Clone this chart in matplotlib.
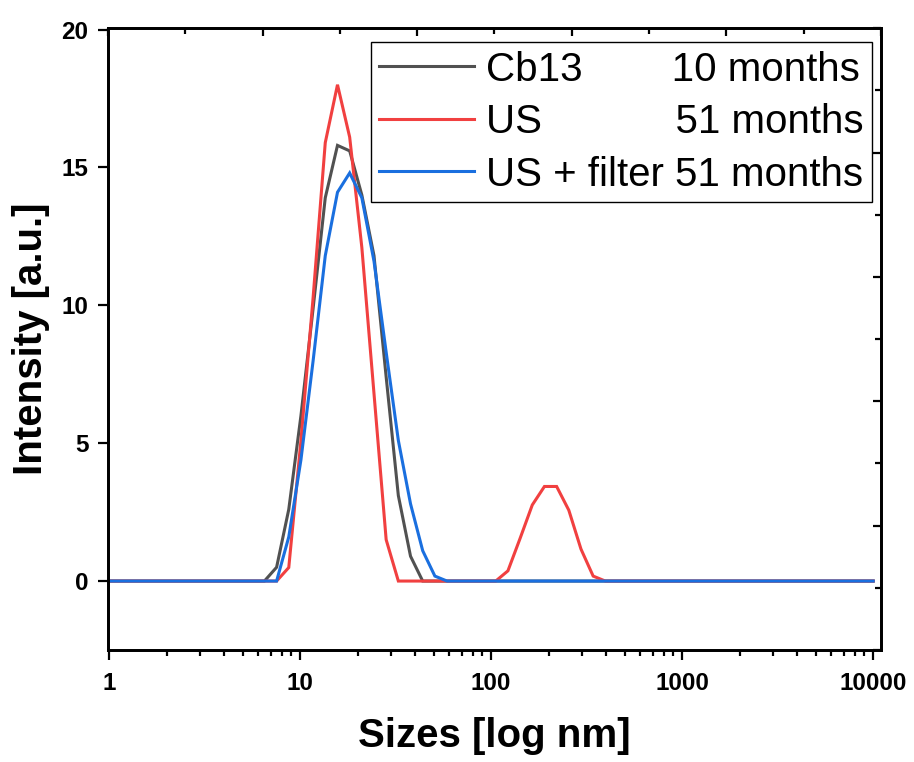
import matplotlib
matplotlib.use("Agg")
import matplotlib.pyplot as plt
from matplotlib.ticker import FixedLocator, NullFormatter, LogLocator, MultipleLocator

plt.rcParams['font.family'] = ['Liberation Sans', 'DejaVu Sans']

# Zetasizer size bins (nm), with plot-range endpoints
sizes = [1, 5.615, 6.503, 7.531, 8.721, 10.10, 11.70, 13.54, 15.69, 18.17, 21.04,
         24.36, 28.21, 32.67, 37.84, 43.82, 50.75, 58.77, 68.06, 78.82, 91.28,
         105.7, 122.4, 141.8, 164.2, 190.1, 220.2, 255.0, 295.3, 342.0, 396.1,
         458.7, 10000]

cb13 = [0, 0, 0, 0.5, 2.6, 6.0, 9.9, 13.9, 15.8, 15.6, 14.0,
        11.8, 7.4, 3.1, 0.9, 0, 0, 0, 0, 0, 0,
        0, 0, 0, 0, 0, 0, 0, 0, 0, 0,
        0, 0]

us = [0, 0, 0, 0, 0.49, 5.1, 10.3, 15.9, 18.0, 16.1, 12.1,
      6.8, 1.5, 0, 0, 0, 0, 0, 0, 0, 0,
      0, 0.37, 1.55, 2.76, 3.43, 3.43, 2.57, 1.16, 0.18, 0,
      0, 0]

us_filter = [0, 0, 0, 0, 1.6, 4.4, 8.0, 11.8, 14.1, 14.8, 13.9,
             11.6, 8.3, 5.1, 2.8, 1.1, 0.18, 0, 0, 0, 0,
             0, 0, 0, 0, 0, 0, 0, 0, 0, 0,
             0, 0]

labels = ["Cb13        10 months", "US            51 months", "US + filter 51 months"]
colors = ["#515151", "#F14040", "#1A6FDF"]

xticks = [1, 10, 100, 1000, 10000]
xticklabels = ["1", "10", "100", "1000", "10000"]
yticks = [0, 5, 10, 15, 20]

fig = plt.figure(figsize=(9.14, 7.62), dpi=100)
ax = fig.add_axes([0.118, 0.147, 0.846, 0.816])

for ys, lab, c in zip([cb13, us, us_filter], labels, colors):
    ax.plot(sizes, ys, color=c, lw=2.2, label=lab, solid_joinstyle='miter')

ax.set_xscale('log')
ax.set_xlim(0.985, 11000)
ax.set_ylim(-2.5, 20.05)

ax.set_xticks(xticks)
ax.set_xticklabels(xticklabels)
ax.xaxis.set_minor_locator(LogLocator(base=10, subs=range(2, 10), numticks=20))
ax.xaxis.set_minor_formatter(NullFormatter())
ax.set_yticks(yticks)
ax.yaxis.set_minor_locator(FixedLocator([]))

ax.tick_params(axis='both', which='major', direction='out', length=7, width=1.6,
               labelsize=17.5, top=False, right=False, pad=7)
ax.tick_params(axis='x', which='major', pad=9)
ax.tick_params(axis='x', which='minor', direction='out', length=4, width=1.6)
for lab in ax.get_xticklabels() + ax.get_yticklabels():
    lab.set_fontweight('bold')

for sp in ax.spines.values():
    sp.set_linewidth(1.8)

# Top and right independent linear ticks (inward)
axt = ax.twiny()
axt.set_xlim(0, 1)
axt.xaxis.set_major_locator(MultipleLocator(0.2))
axt.xaxis.set_minor_locator(MultipleLocator(0.1))
axt.tick_params(axis='x', which='major', direction='in', length=6, width=1.6, labeltop=False)
axt.tick_params(axis='x', which='minor', direction='in', length=4, width=1.6)
axr = ax.twinx()
axr.set_ylim(0, 1)
axr.yaxis.set_major_locator(MultipleLocator(0.2))
axr.yaxis.set_minor_locator(MultipleLocator(0.1))
axr.tick_params(axis='y', which='major', direction='in', length=6, width=1.6, labelright=False)
axr.tick_params(axis='y', which='minor', direction='in', length=4, width=1.6)
for a in (axt, axr):
    for sp in a.spines.values():
        sp.set_linewidth(1.8)

ax.set_xlabel("Sizes [log nm]", fontsize=29, fontweight='bold', labelpad=16)
ax.set_ylabel("Intensity [a.u.]", fontsize=29, fontweight='bold', labelpad=8)

leg = ax.legend(loc='upper right', bbox_to_anchor=(0.988, 0.977), fontsize=29,
                frameon=True, fancybox=False, framealpha=1, edgecolor='black',
                handlelength=2.35, handletextpad=0.3, borderpad=0.2,
                labelspacing=0.36, borderaxespad=0)
leg.get_frame().set_linewidth(1.0)
leg.set_zorder(10)

fig.savefig("out.png", dpi=100)
